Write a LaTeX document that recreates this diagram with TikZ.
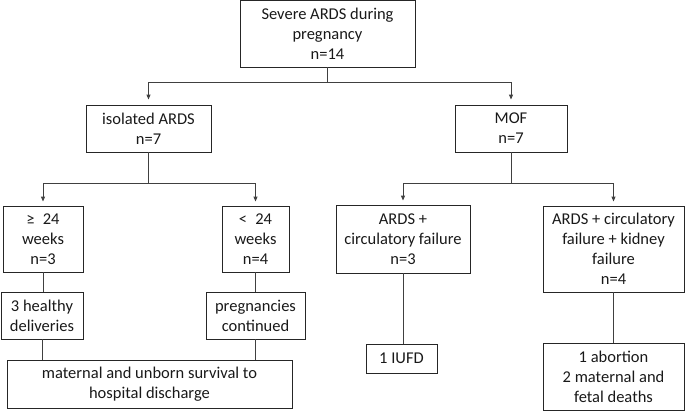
\documentclass[tikz,border=0pt]{standalone}
\usepackage{fontspec}
\setmainfont{Carlito}
\usetikzlibrary{arrows.meta}
\begin{document}
\begin{tikzpicture}[x=1pt,y=-1pt,
  box/.style={draw=black!85, line width=0.9pt, align=center, inner sep=0pt,
    font=\fontsize{16.5}{20}\selectfont, text=black!90},
  conn/.style={draw=black!75, line width=0.9pt},
  arr/.style={conn, -{Triangle[length=5pt,width=4pt]}}]
\useasboundingbox (0,0) rectangle (685,412);
\node[box, minimum width=175pt, minimum height=67pt] (top) at (327.5,33.5) {Severe ARDS during\\pregnancy\\n=14};
\node[box, minimum width=125pt, minimum height=47pt] (iso) at (148.5,128.5) {isolated ARDS\\n=7};
\node[box, minimum width=112pt, minimum height=47pt] (mof) at (511,128.5) {MOF\\n=7};
\node[box, minimum width=80pt, minimum height=66pt] (ge) at (43,239) {≥\enspace 24\\weeks\\n=3};
\node[box, minimum width=67pt, minimum height=66pt] (lt) at (255.5,239) {<\enspace 24\\weeks\\n=4};
\node[box, minimum width=134pt, minimum height=68pt] (circ) at (403,239) {ARDS +\\circulatory failure\\n=3};
\node[box, minimum width=141pt, minimum height=86pt] (kid) at (613.5,249) {ARDS + circulatory\\failure + kidney\\failure\\n=4};
\node[box, minimum width=82pt, minimum height=47pt] (healthy) at (42,315.5) {3 healthy\\deliveries};
\node[box, minimum width=99pt, minimum height=47pt] (preg) at (255.5,315.5) {pregnancies\\continued};
\node[box, minimum width=285pt, minimum height=48pt] (mat) at (149.5,384) {maternal and unborn survival to\\hospital discharge};
\node[box, minimum width=71pt, minimum height=29pt] (iufd) at (401.5,358.5) {1 IUFD};
\node[box, minimum width=141pt, minimum height=67pt] (abort) at (613.5,376.5) {1 abortion\\2 maternal and\\fetal deaths};
% connectors
\coordinate (j1) at (327.5,82);
\coordinate (j2) at (148.5,183);
\coordinate (j3) at (511,183);
\draw[conn] (top.south) -- (j1);
\draw[arr] (j1) -| ([yshift=5pt]iso.north);
\draw[arr] (j1) -| ([yshift=5pt]mof.north);
\draw[conn] (iso.south) -- (j2);
\draw[arr] (j2) -| ([yshift=4pt]ge.north);
\draw[arr] (j2) -| ([yshift=4pt]lt.north);
\draw[conn] (mof.south) -- (j3);
\draw[arr] (j3) -| ([yshift=4pt]circ.north);
\draw[arr] (j3) -| ([yshift=4pt]kid.north);
\draw[conn] (ge.south) -- (ge.south |- healthy.north);
\draw[conn] (lt.south) -- (lt.south |- preg.north);
\draw[conn] (healthy.south) -- (healthy.south |- mat.north);
\draw[conn] (preg.south) -- (preg.south |- mat.north);
\draw[conn] (circ.south) -- (circ.south |- iufd.north);
\draw[conn] (kid.south) -- (kid.south |- abort.north);
\end{tikzpicture}
\end{document}
